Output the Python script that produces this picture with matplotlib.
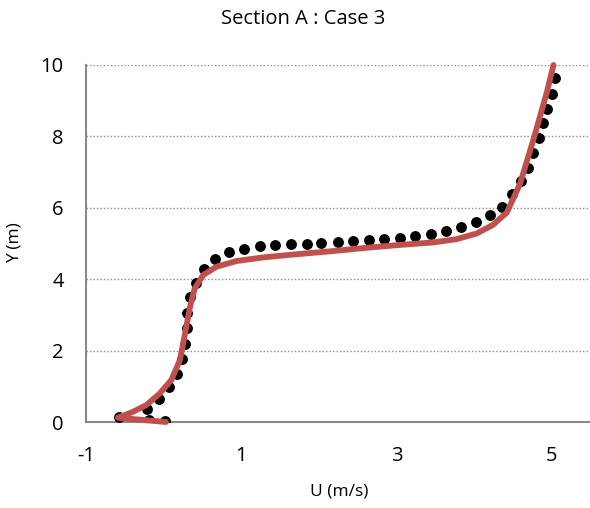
import matplotlib
matplotlib.use("Agg")
import matplotlib.pyplot as plt

# Measured (dots)
u_meas = [0.02, -0.19, -0.58, -0.22, -0.06, 0.07, 0.17, 0.24, 0.28, 0.30, 0.30, 0.34, 0.42, 0.52,
          0.66, 0.84, 1.04, 1.24, 1.44, 1.64, 1.84, 2.03, 2.24, 2.44, 2.64, 2.84, 3.04, 3.24,
          3.44, 3.64, 3.83, 4.02, 4.20, 4.36, 4.48, 4.60, 4.69, 4.76, 4.83, 4.89, 4.94, 5.00, 5.04]
y_meas = [0.02, 0.06, 0.13, 0.36, 0.64, 0.97, 1.34, 1.76, 2.18, 2.62, 3.06, 3.49, 3.90, 4.28,
          4.57, 4.76, 4.85, 4.92, 4.97, 4.99, 5.00, 5.02, 5.03, 5.06, 5.09, 5.12, 5.16, 5.22,
          5.28, 5.35, 5.47, 5.60, 5.79, 6.03, 6.38, 6.74, 7.11, 7.53, 7.95, 8.37, 8.78, 9.20, 9.63]

# Simulated (line)
u_sim = [0.03, -0.59, -0.39, -0.22, -0.05, 0.10, 0.21, 0.275, 0.34, 0.40, 0.51, 0.68, 0.94,
         1.28, 1.71, 2.14, 2.61, 3.04, 3.47, 3.77, 4.03, 4.24, 4.42, 4.59, 4.76, 4.93, 5.02]
y_sim = [0.0, 0.12, 0.29, 0.48, 0.80, 1.18, 1.74, 2.48, 3.23, 3.74, 4.12, 4.35, 4.51,
         4.61, 4.70, 4.78, 4.88, 4.96, 5.03, 5.12, 5.28, 5.52, 5.87, 6.68, 7.90, 9.20, 10.0]

xticks = [-1, 1, 3, 5]
yticks = [0, 2, 4, 6, 8, 10]

font = ['Open Sans', 'DejaVu Sans']
plt.rcParams['font.family'] = font
plt.rcParams['axes.unicode_minus'] = False

fig = plt.figure(figsize=(5.9, 5.08), dpi=100)
ax = fig.add_axes([86/590, 86/508, 1 - 86/590, (422-65)/508])

ax.plot(u_meas, y_meas, linestyle='none', marker='o', markersize=6.8, color='black', zorder=3)
ax.plot(u_sim, y_sim, color='#C0504D', linewidth=4.2, solid_joinstyle='round',
        solid_capstyle='round', zorder=4, clip_on=False)

ax.set_xlim(-1, 5.49)
ax.set_ylim(0, 10)
ax.set_xticks(xticks)
ax.set_yticks(yticks)
ax.tick_params(axis='both', length=0, labelsize=14.5, colors='black')
ax.tick_params(axis='x', pad=17)
ax.tick_params(axis='y', pad=16)

ax.yaxis.grid(True, linestyle=(0, (1, 1.5)), color='#8c8c8c', linewidth=1.0)
ax.set_axisbelow(True)
for s in ['top', 'right']:
    ax.spines[s].set_visible(False)
for s in ['left', 'bottom']:
    ax.spines[s].set_color('#888888')
    ax.spines[s].set_linewidth(1.5)

fig.text(303/590, 1 - 19/508, 'Section A : Case 3', ha='center', va='center', fontsize=14.5)
fig.text(339/590, 1 - 492/508, 'U (m/s)', ha='center', va='center', fontsize=12.5)
fig.text(15/590, 1 - 243/508, 'Y (m)', ha='center', va='center', fontsize=12.5, rotation=90)

fig.savefig('out.png', dpi=100)
